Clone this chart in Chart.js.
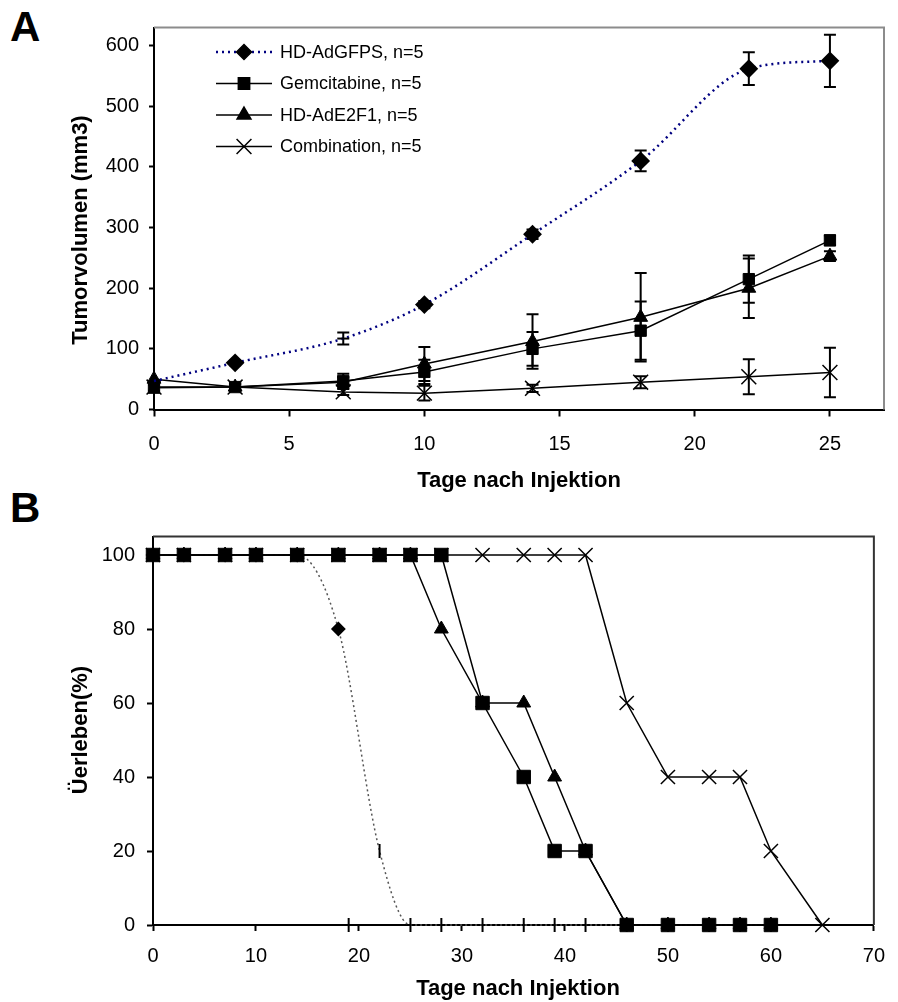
<!DOCTYPE html>
<html lang="de">
<head>
<meta charset="utf-8">
<title>Tumorvolumen und Überleben</title>
<script src="https://cdn.jsdelivr.net/npm/chart.js@4/dist/chart.umd.min.js"></script>
<style>
  html, body { margin: 0; padding: 0; background: #fff; }
  #seite { position: relative; width: 898px; height: 1002px; overflow: hidden;
           font-family: 'Liberation Sans', Arial, sans-serif; color: #000; }
  .panel { position: absolute; left: 0; }
  .buchstabe { position: absolute; font-weight: bold; font-size: 42px; line-height: 42px; }
  .xtitel { position: absolute; width: 400px; text-align: center; font-weight: bold;
            font-size: 22px; line-height: 22px; white-space: nowrap; }
  .ytitel { position: absolute; font-weight: bold; font-size: 22px; line-height: 22px;
            white-space: nowrap; transform: translate(-50%, -50%) rotate(-90deg); }
</style>
</head>
<body>
<div id="seite">
  <div class="buchstabe" style="left:10px; top:6px;">A</div>
  <div class="buchstabe" style="left:10px; top:487px;">B</div>

  <div class="panel" style="top:0; width:898px; height:480px;">
    <canvas id="grafikA" width="898" height="480"></canvas>
  </div>
  <div class="panel" style="top:480px; width:898px; height:522px;">
    <canvas id="grafikB" width="898" height="522"></canvas>
  </div>

  <div class="ytitel" style="left:80px; top:230px;">Tumorvolumen (mm3)</div>
  <div class="xtitel" style="left:319px; top:469px;">Tage nach Injektion</div>
  <div class="ytitel" style="left:80px; top:730px;">Üerleben(%)</div>
  <div class="xtitel" style="left:318px; top:977px;">Tage nach Injektion</div>
</div>

<script>
// ---- Panel A: Tumorvolumen (Mittelwert +/- Fehler) ----
const tageA = [0, 3, 7, 10, 14, 18, 22, 25];
const gfpsA = [47, 77, 117, 173, 289, 410, 562, 575];
const gfpsAFehler = [0, 4, 10, 6, 8, 17, 27, 43];
const gemA = [36, 37, 47, 62, 100, 130, 215, 279];
const gemAFehler = [5, 5, 12, 20, 28, 48, 39, 8];
const e2f1A = [50, 37, 45, 75, 112, 152, 200, 253];
const e2f1AFehler = [0, 0, 8, 28, 45, 73, 49, 8];
const kombiA = [37, 37, 29, 27, 35, 45, 54, 61];
const kombiAFehler = [0, 0, 5, 12, 6, 10, 29, 41];

const xTicksA = [0, 5, 10, 15, 20, 25];
const yTicksA = [0, 100, 200, 300, 400, 500, 600];
const legendeA = ['HD-AdGFPS, n=5', 'Gemcitabine, n=5', 'HD-AdE2F1, n=5', 'Combination, n=5'];

// ---- Panel B: Überleben (%) ----
const tageB = [0, 3, 7, 10, 14, 18, 22, 25, 28, 32, 36, 39, 42, 46, 50, 54, 57, 60];
const gfpsB = [100, 100, 100, 100, 100, 80, 20, 0, 0, 0, 0, 0, 0, 0, 0, 0, 0, 0];
const gemB = [100, 100, 100, 100, 100, 100, 100, 100, 100, 60, 40, 20, 20, 0, 0, 0, 0, 0];
const e2f1B = [100, 100, 100, 100, 100, 100, 100, 100, 80, 60, 60, 40, 20, 0, 0, 0, 0, 0];
const tageKombiB = [0, 3, 7, 10, 14, 18, 22, 25, 28, 32, 36, 39, 42, 46, 50, 54, 57, 60, 65];
const kombiB = [100, 100, 100, 100, 100, 100, 100, 100, 100, 100, 100, 100, 100, 60, 40, 40, 40, 20, 0];
const tageZensiertB = [19];
const zensiertB = [0];

const xTicksB = [0, 10, 20, 30, 40, 50, 60, 70];
const yTicksB = [0, 20, 40, 60, 80, 100];

const schrift = "'Liberation Sans', Arial, sans-serif";

function punkte(xs, ys) {
    return xs.map((x, i) => ({ x: x, y: ys[i] }));
}

function achse(min, max, werte, tickLaenge, abstand, groesse, horizontal) {
    return {
        type: 'linear',
        min: min,
        max: max,
        afterBuildTicks: (s) => { s.ticks = werte.map(v => ({ value: v })); },
        afterFit: (s) => { if (horizontal) s.height = groesse; else s.width = groesse; },
        ticks: { color: '#000', font: { family: schrift, size: 20 }, padding: abstand, maxRotation: 0, autoSkip: false },
        grid: { drawOnChartArea: false, drawTicks: true, tickLength: tickLaenge, tickWidth: 2, tickColor: '#000', color: '#000' },
        border: { display: true, color: '#000', width: 2 }
    };
}

// Rahmen oben und rechts
function rahmen(farbe) {
    return {
        id: 'rahmen',
        afterDraw(chart) {
            const a = chart.chartArea, ctx = chart.ctx;
            ctx.save();
            ctx.strokeStyle = farbe;
            ctx.lineWidth = 2;
            ctx.beginPath();
            ctx.moveTo(a.left, a.top);
            ctx.lineTo(a.right, a.top);
            ctx.lineTo(a.right, a.bottom);
            ctx.stroke();
            ctx.restore();
        }
    };
}

// Fehlerbalken (nur Panel A)
const fehlerbalken = {
    id: 'fehlerbalken',
    beforeDatasetsDraw(chart) {
        const ctx = chart.ctx, y = chart.scales.y;
        ctx.save();
        ctx.strokeStyle = '#000';
        ctx.lineWidth = 2;
        chart.data.datasets.forEach((ds, i) => {
            if (!ds.fehler) return;
            const meta = chart.getDatasetMeta(i);
            meta.data.forEach((p, j) => {
                const e = ds.fehler[j];
                if (!e) return;
                const v = ds.data[j].y;
                const y1 = y.getPixelForValue(v + e), y2 = y.getPixelForValue(v - e);
                ctx.beginPath();
                ctx.moveTo(p.x, y1); ctx.lineTo(p.x, y2);
                ctx.moveTo(p.x - 6, y1); ctx.lineTo(p.x + 6, y1);
                ctx.moveTo(p.x - 6, y2); ctx.lineTo(p.x + 6, y2);
                ctx.stroke();
            });
        });
        ctx.restore();
    }
};

// Legende im Diagramm A (Linie + Marker + Text)
const legendePlugin = {
    id: 'legendeA',
    afterDraw(chart) {
        const ctx = chart.ctx;
        ctx.save();
        legendeA.forEach((text, i) => {
            const ds = chart.data.datasets[i];
            const yy = 52 + i * 31.5;
            ctx.strokeStyle = ds.borderColor;
            ctx.lineWidth = ds.borderWidth;
            ctx.setLineDash(ds.borderDash || []);
            ctx.beginPath();
            ctx.moveTo(216, yy); ctx.lineTo(272, yy);
            ctx.stroke();
            ctx.setLineDash([]);
            ctx.fillStyle = '#000';
            ctx.strokeStyle = '#000';
            ctx.lineWidth = 1.5;
            if (Chart.helpers && Chart.helpers.drawPoint) {
                Chart.helpers.drawPoint(ctx, { pointStyle: ds.legendeStil, radius: ds.legendeRadius, rotation: 0, borderWidth: 1.5 }, 244, yy);
            }
            ctx.font = '18px ' + schrift;
            ctx.textBaseline = 'middle';
            ctx.textAlign = 'left';
            ctx.fillText(text, 280, yy + 1);
        });
        ctx.restore();
    }
};

const grundOptionen = {
    responsive: false,
    animation: false,
    devicePixelRatio: 1,
    events: [],
    plugins: { legend: { display: false }, tooltip: { enabled: false } }
};

new Chart(document.getElementById('grafikA'), {
    type: 'scatter',
    data: {
        datasets: [
            {
                label: legendeA[0], data: punkte(tageA, gfpsA), fehler: gfpsAFehler,
                showLine: true, cubicInterpolationMode: 'monotone', clip: false, order: 0,
                borderColor: '#000080', borderWidth: 2.5, borderDash: [2, 4],
                pointStyle: (c) => c.dataIndex === 2 ? 'line' : 'rectRot',
                pointRadius: (c) => c.dataIndex === 0 ? 0 : (c.dataIndex === 2 ? 6 : 8),
                pointBackgroundColor: '#000', pointBorderColor: '#000', pointBorderWidth: 2,
                legendeStil: 'rectRot', legendeRadius: 7.5
            },
            {
                label: legendeA[1], data: punkte(tageA, gemA), fehler: gemAFehler,
                showLine: true, clip: false, order: 1,
                borderColor: '#000', borderWidth: 1.5,
                pointStyle: 'rect', pointRadius: 8,
                pointBackgroundColor: '#000', pointBorderColor: '#000', pointBorderWidth: 1,
                legendeStil: 'rect', legendeRadius: 8
            },
            {
                label: legendeA[2], data: punkte(tageA, e2f1A), fehler: e2f1AFehler,
                showLine: true, clip: false, order: 2,
                borderColor: '#000', borderWidth: 1.5,
                pointStyle: 'triangle', pointRadius: 8,
                pointBackgroundColor: '#000', pointBorderColor: '#000', pointBorderWidth: 1,
                legendeStil: 'triangle', legendeRadius: 8
            },
            {
                label: legendeA[3], data: punkte(tageA, kombiA), fehler: kombiAFehler,
                showLine: true, clip: false, order: 3,
                borderColor: '#000', borderWidth: 1.5,
                pointStyle: 'crossRot', pointRadius: 10.5,
                pointBackgroundColor: '#000', pointBorderColor: '#000', pointBorderWidth: 1.5,
                legendeStil: 'crossRot', legendeRadius: 10.5
            }
        ]
    },
    options: Object.assign({}, grundOptionen, {
        layout: { padding: { top: 27.5, right: 14, left: 0, bottom: 0 } },
        scales: {
            x: achse(0, 27, xTicksA, 7, 16, 70.5, true),
            y: achse(0, 630, yTicksA, 5, 10, 154, false)
        }
    }),
    plugins: [fehlerbalken, rahmen('#8c8c8c'), legendePlugin]
});

new Chart(document.getElementById('grafikB'), {
    type: 'scatter',
    data: {
        datasets: [
            {
                label: 'Gemcitabine', data: punkte(tageB, gemB),
                showLine: true, clip: false, order: 0,
                borderColor: '#000', borderWidth: 1.5,
                pointStyle: 'rect', pointRadius: 9.5,
                pointBackgroundColor: '#000', pointBorderColor: '#000', pointBorderWidth: 1
            },
            {
                label: 'Combination', data: punkte(tageKombiB, kombiB),
                showLine: true, clip: false, order: 1,
                borderColor: '#000', borderWidth: 1.5,
                pointStyle: 'crossRot', pointRadius: 10,
                pointBackgroundColor: '#000', pointBorderColor: '#000', pointBorderWidth: 1.5
            },
            {
                label: 'HD-AdE2F1', data: punkte(tageB, e2f1B),
                showLine: true, clip: false, order: 2,
                borderColor: '#000', borderWidth: 1.5,
                pointStyle: 'triangle', pointRadius: 8,
                pointBackgroundColor: '#000', pointBorderColor: '#000', pointBorderWidth: 1
            },
            {
                label: 'HD-AdGFPS', data: punkte(tageB, gfpsB),
                showLine: true, cubicInterpolationMode: 'monotone', clip: false, order: 3,
                borderColor: '#555', borderWidth: 1.5, borderDash: [2, 3],
                pointStyle: (c) => c.dataIndex < 6 ? 'rectRot' : 'line',
                pointRotation: (c) => c.dataIndex < 6 ? 0 : 90,
                pointRadius: (c) => c.dataIndex < 6 ? 6 : 7,
                pointBackgroundColor: '#000', pointBorderColor: '#000', pointBorderWidth: 2
            },
            {
                label: 'HD-AdGFPS zensiert', data: punkte(tageZensiertB, zensiertB),
                showLine: false, clip: false, order: 4,
                pointStyle: 'line', pointRotation: 90, pointRadius: 7,
                pointBorderColor: '#000', pointBorderWidth: 2
            }
        ]
    },
    options: Object.assign({}, grundOptionen, {
        layout: { padding: { top: 56.5, right: 15, left: 0, bottom: 0 } },
        scales: {
            x: achse(0, 70, xTicksB, 6, 13, 77, true),
            y: achse(0, 105, yTicksB, 6, 12, 153, false)
        }
    }),
    plugins: [rahmen('#333'), fehlerbalken]
});
</script>
</body>
</html>
